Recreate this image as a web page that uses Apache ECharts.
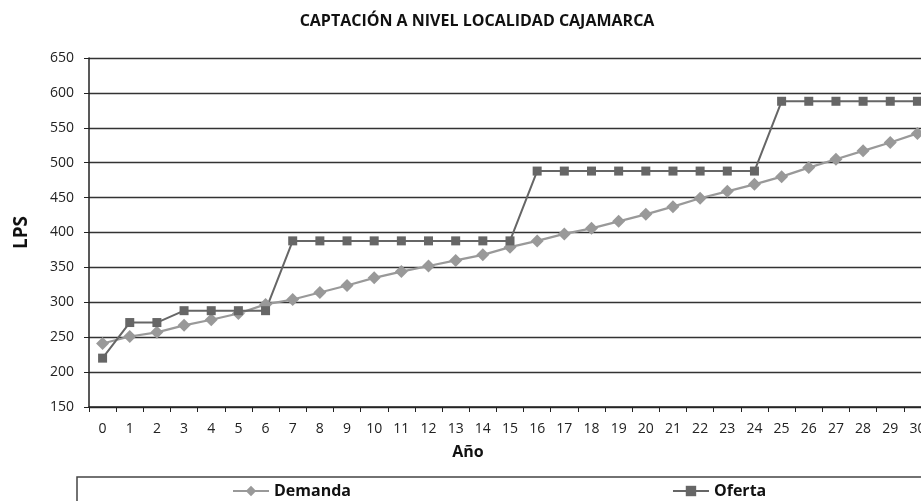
<!DOCTYPE html>
<html>
<head>
<meta charset="utf-8">
<script src="https://cdn.jsdelivr.net/npm/echarts@6/dist/echarts.min.js"></script>
<style>
  html, body { margin: 0; padding: 0; background: #fff; overflow: hidden; }
  /* el gráfico original sale recortado por la derecha */
  #chart { width: 945px; height: 501px; }
</style>
</head>
<body>
<div id="chart"></div>
<script>
  // años 0..30
  var years = ['0','1','2','3','4','5','6','7','8','9','10','11','12','13','14','15','16','17','18','19','20','21','22','23','24','25','26','27','28','29','30'];
  var demanda = [241, 251, 257, 267, 275, 284, 297, 304, 314, 324, 335, 344, 352, 360, 368, 379, 388, 398, 406, 416, 426, 437, 449, 459, 469, 480, 493, 505, 517, 529, 542];
  var oferta = [220, 271, 271, 288, 288, 288, 288, 388, 388, 388, 388, 388, 388, 388, 388, 388, 488, 488, 488, 488, 488, 488, 488, 488, 488, 588, 588, 588, 588, 588, 588];

  var font = '"Open Sans", "DejaVu Sans", sans-serif';

  var chart = echarts.init(document.getElementById('chart'));
  chart.setOption({
    animation: false,
    title: {
      text: 'CAPTACIÓN A NIVEL LOCALIDAD CAJAMARCA',
      left: 472,
      textAlign: 'center',
      top: 8,
      textStyle: { fontFamily: font, fontSize: 16, fontWeight: 'bold', color: '#111' }
    },
    legend: {
      left: 77,
      top: 477,
      width: 1200,
      orient: 'horizontal',
      itemGap: 321,
      itemWidth: 36,
      itemHeight: 13,
      padding: [6, 400, 30, 155],
      borderColor: '#444',
      borderWidth: 1.5,
      textStyle: { fontFamily: font, fontSize: 16, fontWeight: 'bold', color: '#111' },
      data: ['Demanda', 'Oferta']
    },
    grid: { left: 89, top: 58, width: 842, bottom: 94, containLabel: false },
    xAxis: {
      type: 'category',
      data: years,
      boundaryGap: true,
      name: 'Año',
      nameLocation: 'middle',
      nameGap: 37,
      nameTextStyle: { fontFamily: font, fontSize: 16, fontWeight: 'bold', color: '#111', padding: [0, 84, 0, 0] },
      axisLine: { lineStyle: { color: '#222', width: 1.5 } },
      axisTick: { show: true, inside: false, length: 5, alignWithLabel: false, lineStyle: { color: '#222' } },
      axisLabel: { fontFamily: font, fontSize: 14, color: '#222', margin: 15, interval: 0 }
    },
    yAxis: {
      type: 'value',
      min: 150,
      max: 650,
      interval: 50,
      name: 'LPS',
      nameLocation: 'middle',
      nameGap: 58,
      nameRotate: 90,
      nameTextStyle: { fontFamily: font, fontSize: 19, fontWeight: 'bold', color: '#111' },
      axisLine: { show: true, lineStyle: { color: '#222', width: 1.5 } },
      axisTick: { show: true, length: 5, lineStyle: { color: '#222' } },
      axisLabel: { fontFamily: font, fontSize: 14, color: '#222', margin: 15 },
      splitLine: { show: true, lineStyle: { color: '#333', width: 1.3 } }
    },
    series: [
      {
        name: 'Demanda',
        type: 'line',
        data: demanda,
        symbol: 'diamond',
        symbolSize: 13,
        itemStyle: { color: '#999' },
        lineStyle: { color: '#999', width: 2.2 }
      },
      {
        name: 'Oferta',
        type: 'line',
        data: oferta,
        symbol: 'rect',
        symbolSize: 9,
        itemStyle: { color: '#666' },
        lineStyle: { color: '#666', width: 2 }
      }
    ]
  });
</script>
</body>
</html>
